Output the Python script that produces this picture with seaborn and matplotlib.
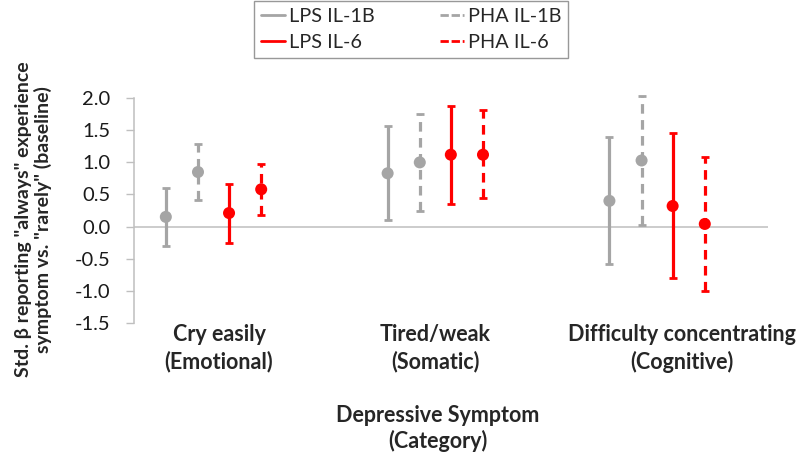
#Recreates the depressive symptom / cytokine forest-style chart
import matplotlib
matplotlib.use("Agg")
import seaborn as sns
import matplotlib.pyplot as plt
from matplotlib.lines import Line2D
import numpy as np
import pandas as pd

categories = ["Cry easily\n(Emotional)", "Tired/weak\n(Somatic)",
              "Difficulty concentrating\n(Cognitive)"]
series = ["LPS IL-1B", "PHA IL-1B", "LPS IL-6", "PHA IL-6"]

lps_il1b = [0.15, 0.83, 0.40]
lps_il1b_low = [-0.31, 0.10, -0.59]
lps_il1b_high = [0.60, 1.57, 1.39]

pha_il1b = [0.85, 1.00, 1.03]
pha_il1b_low = [0.42, 0.24, 0.02]
pha_il1b_high = [1.28, 1.75, 2.04]

lps_il6 = [0.21, 1.12, 0.32]
lps_il6_low = [-0.25, 0.35, -0.81]
lps_il6_high = [0.66, 1.88, 1.46]

pha_il6 = [0.58, 1.12, 0.04]
pha_il6_low = [0.18, 0.44, -1.00]
pha_il6_high = [0.98, 1.82, 1.09]

yticks = [-1.5, -1.0, -0.5, 0.0, 0.5, 1.0, 1.5, 2.0]

#Styling (kept apart from the data)
GRAY, RED = "#a5a5a5", "#ff0000"
colors = {"LPS IL-1B": GRAY, "PHA IL-1B": GRAY, "LPS IL-6": RED, "PHA IL-6": RED}
dashed = {"LPS IL-1B": False, "PHA IL-1B": True, "LPS IL-6": False, "PHA IL-6": True}
offsets = {"LPS IL-1B": -0.215, "PHA IL-1B": -0.07, "LPS IL-6": 0.07, "PHA IL-6": 0.215}
DASH = (0, (3, 2))

#Build long dataframe
vals = {"LPS IL-1B": (lps_il1b, lps_il1b_low, lps_il1b_high),
        "PHA IL-1B": (pha_il1b, pha_il1b_low, pha_il1b_high),
        "LPS IL-6": (lps_il6, lps_il6_low, lps_il6_high),
        "PHA IL-6": (pha_il6, pha_il6_low, pha_il6_high)}
rows = []
for s in series:
    est, lo, hi = vals[s]
    for i, c in enumerate(categories):
        rows.append({"series": s, "category": c, "x": i + offsets[s],
                     "est": est[i], "low": lo[i], "high": hi[i]})
df = pd.DataFrame(rows)

sns.set_style("white")
plt.rcParams['font.family'] = ['Lato', 'DejaVu Sans']

fig = plt.figure(figsize=(8, 4.55), dpi=100)
ax = fig.add_axes([0.1675, 0.2908, 0.7925, 0.4932])

#Error bars first, points on top
for s in series:
    sub = df[df["series"] == s]
    yerr = [sub["est"] - sub["low"], sub["high"] - sub["est"]]
    eb = ax.errorbar(sub["x"], sub["est"], yerr=yerr, fmt="none", ecolor=colors[s],
                     elinewidth=2.3, capsize=3, capthick=2, clip_on=False, zorder=2)
    if dashed[s]:
        eb[2][0].set_linestyle(DASH)
    for cap in eb[1]:
        cap.set_clip_on(False)
    eb[2][0].set_clip_on(False)

sns.scatterplot(data=df, x="x", y="est", hue="series", palette=colors, s=75,
                edgecolor="none", legend=False, ax=ax, zorder=3, clip_on=False)

ax.axhline(0, color="#bfbfbf", lw=1.1, zorder=1)

ax.set_xlim(-0.3585, 2.5)
ax.set_ylim(-1.5, 2.0)
ax.set_yticks(yticks)
ax.set_yticklabels([f"{t:.1f}" for t in yticks], fontsize=14.5, color="#1a1a1a")
ax.tick_params(axis="y", direction="out", length=6, width=1, color="#bfbfbf", pad=11, left=True)
ax.set_xticks([0.025, 1.0, 2.11])
ax.set_xticklabels(categories, fontsize=15.5, fontweight="bold", linespacing=1.3)
ax.tick_params(axis="x", length=0, pad=1)

for side in ["top", "right", "bottom"]:
    ax.spines[side].set_visible(False)
ax.spines["left"].set_color("#bfbfbf")
ax.spines["left"].set_linewidth(1.1)
ax.set_xlabel("")
ax.set_ylabel("")

fig.text(0.042, 0.518, 'Std. β reporting "always" experience\nsymptom vs. "rarely" (baseline)',
         rotation=90, ha="center", va="center", fontsize=14, fontweight="bold",
         linespacing=1.15)
fig.text(0.5475, 0.058, "Depressive Symptom\n(Category)", ha="center", va="center",
         fontsize=15.5, fontweight="bold", linespacing=1.25)

handles = []
for s in ["LPS IL-1B", "LPS IL-6", "PHA IL-1B", "PHA IL-6"]:
    handles.append(Line2D([0], [0], color=colors[s], lw=2,
                          linestyle=(0, (3, 1)) if dashed[s] else "-"))
leg = fig.legend(handles, ["LPS IL-1B", "LPS IL-6", "PHA IL-1B", "PHA IL-6"], ncol=2,
                 loc="upper center", bbox_to_anchor=(0.514, 1.0), fontsize=14.3,
                 frameon=True, fancybox=False, edgecolor="#7f7f7f", handlelength=1.2,
                 handletextpad=0.2, columnspacing=3.3, labelspacing=0.45,
                 borderpad=0.35, borderaxespad=0.05)
leg.get_frame().set_linewidth(1.0)

fig.savefig("out.png", dpi=100)
